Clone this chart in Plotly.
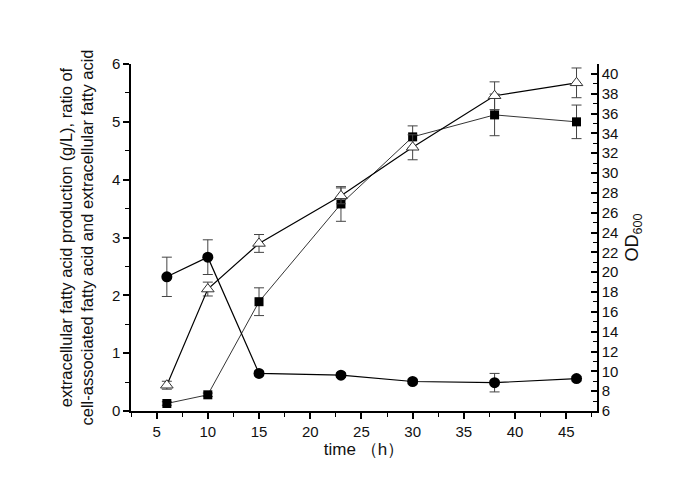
import plotly.graph_objects as go

time_h = [6, 10, 15, 23, 30, 38, 46]

# extracellular fatty acid production (g/L) - squares, left axis
fa_prod = [0.13, 0.28, 1.89, 3.58, 4.74, 5.12, 5.00]
fa_prod_err = [0.03, 0.03, 0.24, 0.30, 0.19, 0.36, 0.29]

# ratio cell-associated / extracellular - circles, left axis
ratio = [2.32, 2.66, 0.65, 0.62, 0.51, 0.49, 0.56]
ratio_err = [0.34, 0.30, 0.04, 0.04, 0.04, 0.16, 0.04]

# OD600 - open triangles, right axis
od600 = [8.6, 18.3, 22.9, 27.7, 32.6, 37.8, 39.1]
od600_err = [0.4, 0.7, 0.9, 0.8, 1.26, 1.4, 1.5]

x_ticks = [5, 10, 15, 20, 25, 30, 35, 40, 45]
y_ticks = [0, 1, 2, 3, 4, 5, 6]
y2_ticks = list(range(6, 41, 2))

FONT = "Liberation Sans, Arial, sans-serif"
err_style = dict(type="data", thickness=1, width=5, color="#444")

fig = go.Figure()

fig.add_trace(go.Scatter(
    x=time_h, y=od600, yaxis="y2", mode="lines+markers",
    line=dict(color="black", width=1.2),
    marker=dict(symbol="triangle-up", size=11, color="white",
                line=dict(color="#333", width=1)),
    error_y=dict(array=od600_err, **err_style), showlegend=False))

fig.add_trace(go.Scatter(
    x=time_h, y=fa_prod, mode="lines+markers",
    line=dict(color="black", width=0.8),
    marker=dict(symbol="square", size=9, color="black"),
    error_y=dict(array=fa_prod_err, **err_style), showlegend=False))

fig.add_trace(go.Scatter(
    x=time_h, y=ratio, mode="lines+markers",
    line=dict(color="black", width=1.2),
    marker=dict(symbol="circle", size=11, color="black"),
    error_y=dict(array=ratio_err, **err_style), showlegend=False))

axis_common = dict(showline=True, linecolor="black", linewidth=1.5,
                   showgrid=False, zeroline=False,
                   tickfont=dict(family=FONT, size=15, color="#111"),
                   tickcolor="black", tickwidth=1.5)

fig.update_layout(
    width=685, height=484,
    margin=dict(l=123, r=96, t=56, b=81),
    paper_bgcolor="white", plot_bgcolor="white",
    font=dict(family=FONT, color="#111"),
    xaxis=dict(range=[2.5, 48], tickvals=x_ticks, ticks="outside", ticklen=6,
               minor=dict(dtick=2.5, tick0=2.5, ticks="outside", ticklen=4,
                          tickcolor="black", tickwidth=1.2),
               title=dict(text="time （h）", font=dict(family=FONT, size=17),
                          standoff=4),
               **axis_common),
    yaxis=dict(range=[0, 6], tickvals=y_ticks, ticks="outside", ticklen=6,
               minor=dict(dtick=0.5, tick0=0, ticks="outside", ticklen=4,
                          tickcolor="black", tickwidth=1.2),
               title=dict(text="extracellular fatty acid production (g/L), ratio of<br>"
                               "cell-associated fatty acid and extracellular fatty acid",
                          font=dict(family=FONT, size=16.5), standoff=14),
               **axis_common),
    yaxis2=dict(range=[6, 41], tickvals=y2_ticks, overlaying="y", side="right",
                ticks="inside", ticklen=6,
                minor=dict(dtick=1, tick0=6, ticks="inside", ticklen=4,
                           tickcolor="black", tickwidth=1.2),
                title=dict(text="OD<sub>600</sub>", font=dict(family=FONT, size=18),
                           standoff=8),
                **axis_common),
)

fig.write_html("out.html")
